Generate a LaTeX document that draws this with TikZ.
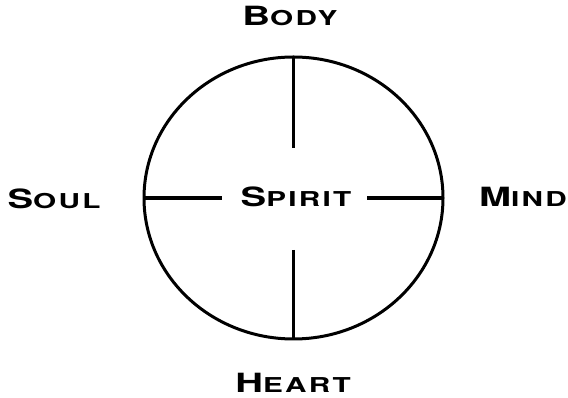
\documentclass[tikz,border=0pt]{standalone}
\usepackage{fontspec}
\newfontfamily\cgfont[FakeStretch=1.45,LetterSpace=11]{TeX Gyre Heros}
\newcommand{\cgsc}[2]{{\cgfont\bfseries\fontsize{26.5}{26.5}\selectfont #1\fontsize{20.5}{20.5}\selectfont #2}}
\begin{document}
\begin{tikzpicture}[x=1pt,y=1pt,
  lbl/.style={inner sep=0pt,anchor=base},
  stroke/.style={line width=3.3pt,line cap=butt}]
\useasboundingbox (0,0) rectangle (568,398);
\coordinate (c) at (293.5,200);
\draw[line width=3pt] (c) ellipse [x radius=149.5, y radius=141];
\coordinate (t1) at (293.5,341);
\coordinate (t2) at (293.5,250);
\coordinate (b1) at (293.5,148);
\coordinate (b2) at (293.5,59);
\coordinate (l1) at (144,200);
\coordinate (l2) at (222,200);
\coordinate (r1) at (367,200);
\coordinate (r2) at (443,200);
\draw[stroke] (t1) -- (t2);
\draw[stroke] (b1) -- (b2);
\draw[stroke] (l1) -- (l2);
\draw[stroke] (r1) -- (r2);
\node[lbl] (body) at (290,372) {\cgsc{B}{ODY}};
\node[lbl] (spirit) at (296,191) {\cgsc{S}{PIRIT}};
\node[lbl] (soul) at (54,189) {\cgsc{S}{OUL}};
\node[lbl] (mind) at (523,191) {\cgsc{M}{IND}};
\node[lbl] (heart) at (293,5) {\cgsc{H}{EART}};
\end{tikzpicture}
\end{document}
